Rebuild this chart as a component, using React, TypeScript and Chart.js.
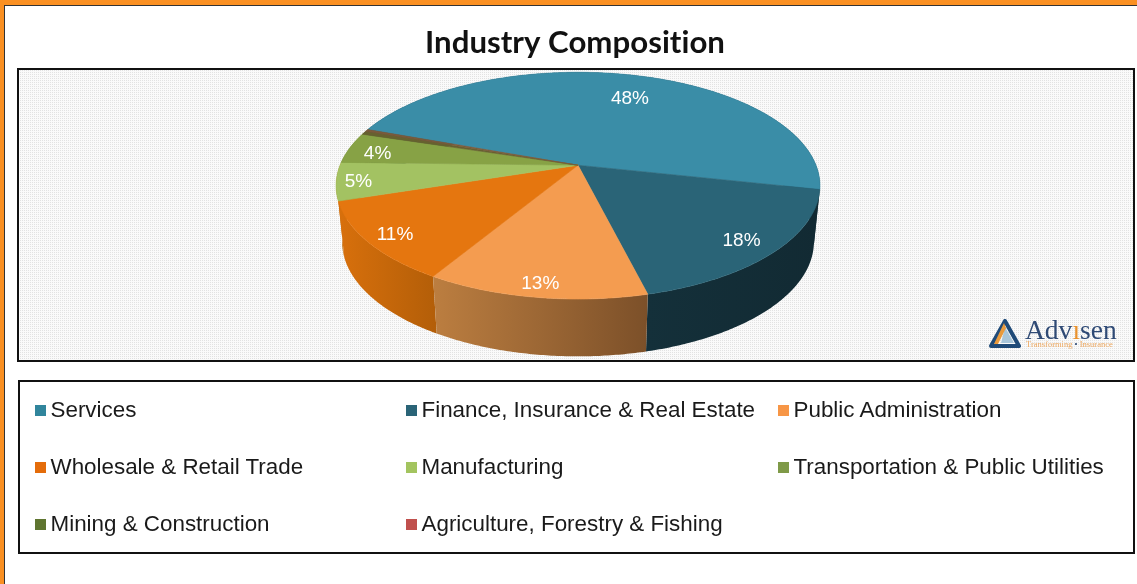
import React, { useEffect, useRef } from "react";
import { Chart, registerables } from "chart.js";

Chart.register(...registerables);

const TITLE = "Industry Composition";
const categories = [
  "Services",
  "Finance, Insurance & Real Estate",
  "Public Administration",
  "Wholesale & Retail Trade",
  "Manufacturing",
  "Transportation & Public Utilities",
  "Mining & Construction",
  "Agriculture, Forestry & Fishing",
];
const shares = [47.8, 17.7, 12.5, 11.4, 5.4, 4.4, 0.5, 0.3];
const topColors = ["#3A8DA7", "#2A6477", "#F49C50", "#E5760F", "#A3C262", "#87A245", "#66612F", "#7A5A3A"];
const legendColors = ["#31859C", "#2A6477", "#F79646", "#E46C0A", "#A3C45F", "#7F9A48", "#5F7530", "#C0504D"];
const sideFrom = ["#15323C", "#14303A", "#BC7E40", "#D8700C", "#B86A0A", "#6F8436", "#55502A", "#5A4A2A"];
const sideTo = ["#15323C", "#122A33", "#7C5029", "#B35E08", "#C8700C", "#6F8436", "#55502A", "#5A4A2A"];
const labelFractions = [0.74, 0.855, 0.9, 0.885, 0.91, 0.87, 0, 0];
const labelTurn = [0.055, 0, 0, 0, 0, -0.02, 0, 0];

// projection constants of the tilted pie
const PERSPECTIVE = 0.18;
const FLATTEN = 0.461;
const DEPTH = 56;
const LOWER_SX = 0.975;
const LOWER_SY = 1.01;
const SHIFT_X = 3;

function project(el: any, angle: number, fraction: number, lower: boolean) {
  const u = fraction * Math.cos(angle);
  const v = fraction * Math.sin(angle);
  const w = 1 - PERSPECTIVE * v;
  const R = el.outerRadius;
  return {
    x: el.x + SHIFT_X + ((R * u) / w) * (lower ? LOWER_SX : 1),
    y: el.y + ((R * FLATTEN * v) / w) * (lower ? LOWER_SY : 1) + (lower ? DEPTH : 0),
  };
}

function rim(el: any, lower: boolean) {
  const pts: { x: number; y: number }[] = [];
  const n = Math.max(2, Math.ceil((el.endAngle - el.startAngle) / 0.01));
  for (let i = 0; i <= n; i++) {
    pts.push(project(el, el.startAngle + ((el.endAngle - el.startAngle) * i) / n, 1, lower));
  }
  return pts;
}

const pie3d = {
  id: "pie3d",
  beforeDraw(chart: any) {
    const { ctx, width, height } = chart;
    // a non-zero spacing turns off the "ti" ligature in the title
    ctx.letterSpacing = "0.02px";
    ctx.save();
    ctx.fillStyle = "#ffffff";
    ctx.fillRect(0, 0, width, height);
    // page frame
    ctx.fillStyle = "#FA9022";
    ctx.fillRect(0, 0, width, 5);
    ctx.fillRect(0, 0, 4, height);
    ctx.fillStyle = "#333333";
    ctx.fillRect(4, 5, width - 4, 1);
    ctx.fillRect(4, 5, 1, height - 5);
    // dotted plot background
    const tile = document.createElement("canvas");
    tile.width = 2;
    tile.height = 2;
    const t = tile.getContext("2d")!;
    t.fillStyle = "#FAFAFA";
    t.fillRect(0, 0, 2, 2);
    t.fillStyle = "#E2E2E2";
    t.fillRect(0, 0, 1, 1);
    ctx.fillStyle = ctx.createPattern(tile, "repeat");
    ctx.fillRect(18, 69, 1116, 292);
    ctx.strokeStyle = "#111111";
    ctx.lineWidth = 2;
    ctx.strokeRect(18, 69, 1116, 292);
    ctx.strokeRect(19, 381, 1115, 172);
    ctx.restore();
  },
  beforeDatasetsDraw(chart: any) {
    const { ctx } = chart;
    const arcs = chart.getDatasetMeta(0).data;
    ctx.save();
    // side walls, back slices first so the front ones lie over them
    const order = arcs
      .map((el: any, i: number) => ({ el, i }))
      .sort((a: any, b: any) => Math.sin((a.el.startAngle + a.el.endAngle) / 2) - Math.sin((b.el.startAngle + b.el.endAngle) / 2));
    for (const { el, i } of order) {
      const up = rim(el, false);
      const low = rim(el, true);
      const xs = up.concat(low).map((p) => p.x);
      const grad = ctx.createLinearGradient(Math.min(...xs), 0, Math.max(...xs), 0);
      grad.addColorStop(0, sideFrom[i]);
      grad.addColorStop(1, sideTo[i]);
      ctx.beginPath();
      up.forEach((p, k) => (k ? ctx.lineTo(p.x, p.y) : ctx.moveTo(p.x, p.y)));
      low.reverse().forEach((p) => ctx.lineTo(p.x, p.y));
      ctx.closePath();
      ctx.fillStyle = grad;
      ctx.fill();
    }
    // top faces
    arcs.forEach((el: any, i: number) => {
      const up = rim(el, false);
      ctx.beginPath();
      ctx.moveTo(el.x + SHIFT_X, el.y);
      up.forEach((p) => ctx.lineTo(p.x, p.y));
      ctx.closePath();
      ctx.fillStyle = topColors[i];
      ctx.strokeStyle = topColors[i];
      ctx.lineWidth = 0.6;
      ctx.fill();
      ctx.stroke();
    });
    // value labels
    ctx.fillStyle = "#ffffff";
    ctx.font = '19px "Liberation Sans"';
    ctx.textAlign = "center";
    ctx.textBaseline = "middle";
    arcs.forEach((el: any, i: number) => {
      const v = shares[i];
      if (v < 1) return;
      const p = project(el, (el.startAngle + el.endAngle) / 2 + labelTurn[i], labelFractions[i], false);
      ctx.fillText(`${Math.round(v)}%`, p.x, p.y + 2);
    });
    ctx.restore();
    return false;
  },
};

const legendCols = [35, 406, 778];
const legendRows = [410, 467, 524];

export default function App() {
  const ref = useRef<HTMLCanvasElement>(null);
  useEffect(() => {
    const chart = new Chart(ref.current!, {
      type: "pie",
      data: {
        labels: categories,
        datasets: [{ data: shares, backgroundColor: legendColors, borderWidth: 0 }],
      },
      options: {
        animation: false,
        responsive: false,
        devicePixelRatio: 1,
        rotation: 290.2,
        radius: 238,
        layout: { padding: { left: 13, right: 0, top: 0, bottom: 318 } },
        plugins: {
          legend: { display: false },
          tooltip: { enabled: false },
          title: {
            display: true,
            text: TITLE,
            color: "#111111",
            font: { family: "Lato", weight: "bold", size: 31.2 },
            padding: { top: 24, bottom: 3 },
          },
        },
      },
      plugins: [pie3d],
    } as any);
    return () => chart.destroy();
  }, []);

  return (
    <div style={{ position: "relative", width: 1137, height: 584, overflow: "hidden" }}>
      <style>{"html,body{margin:0;padding:0;background:#fff;overflow:hidden}"}</style>
      <canvas ref={ref} width={1137} height={584} style={{ display: "block" }} />
      {categories.map((c, i) => {
        const x = legendCols[i % 3];
        const y = legendRows[Math.floor(i / 3)];
        return (
          <React.Fragment key={c}>
            <div style={{ position: "absolute", left: x, top: y - 5, width: 11, height: 11, background: legendColors[i] }} />
            <div
              style={{
                position: "absolute",
                left: x + 15.5,
                top: y - 14,
                font: '22.4px/28px "Liberation Sans"',
                color: "#1a1a1a",
                whiteSpace: "nowrap",
              }}
            >
              {c}
            </div>
          </React.Fragment>
        );
      })}
      <svg style={{ position: "absolute", left: 989, top: 319 }} width={32} height={29} viewBox="0 0 32 29">
        <polygon points="16,2 30,27 2,27" fill="none" stroke="#1F4A78" strokeWidth={4} strokeLinejoin="round" />
        <polygon points="16,8 25,24 12,24" fill="#A9C6DA" />
        <polygon points="15,4 5,25 9,25 17,9" fill="#E99A3C" />
      </svg>
      <div style={{ position: "absolute", left: 1025, top: 315, font: '27.5px/30px "Liberation Serif"', color: "#2F4A75", whiteSpace: "nowrap" }}>
        Adv<span style={{ color: "#E8912D" }}>ı</span>sen
      </div>
      <div style={{ position: "absolute", left: 1026, top: 339, font: '8.5px/10px "Liberation Serif"', color: "#EDA860", whiteSpace: "nowrap" }}>
        Transforming <span style={{ color: "#2F4A75" }}>•</span> Insurance
      </div>
    </div>
  );
}
